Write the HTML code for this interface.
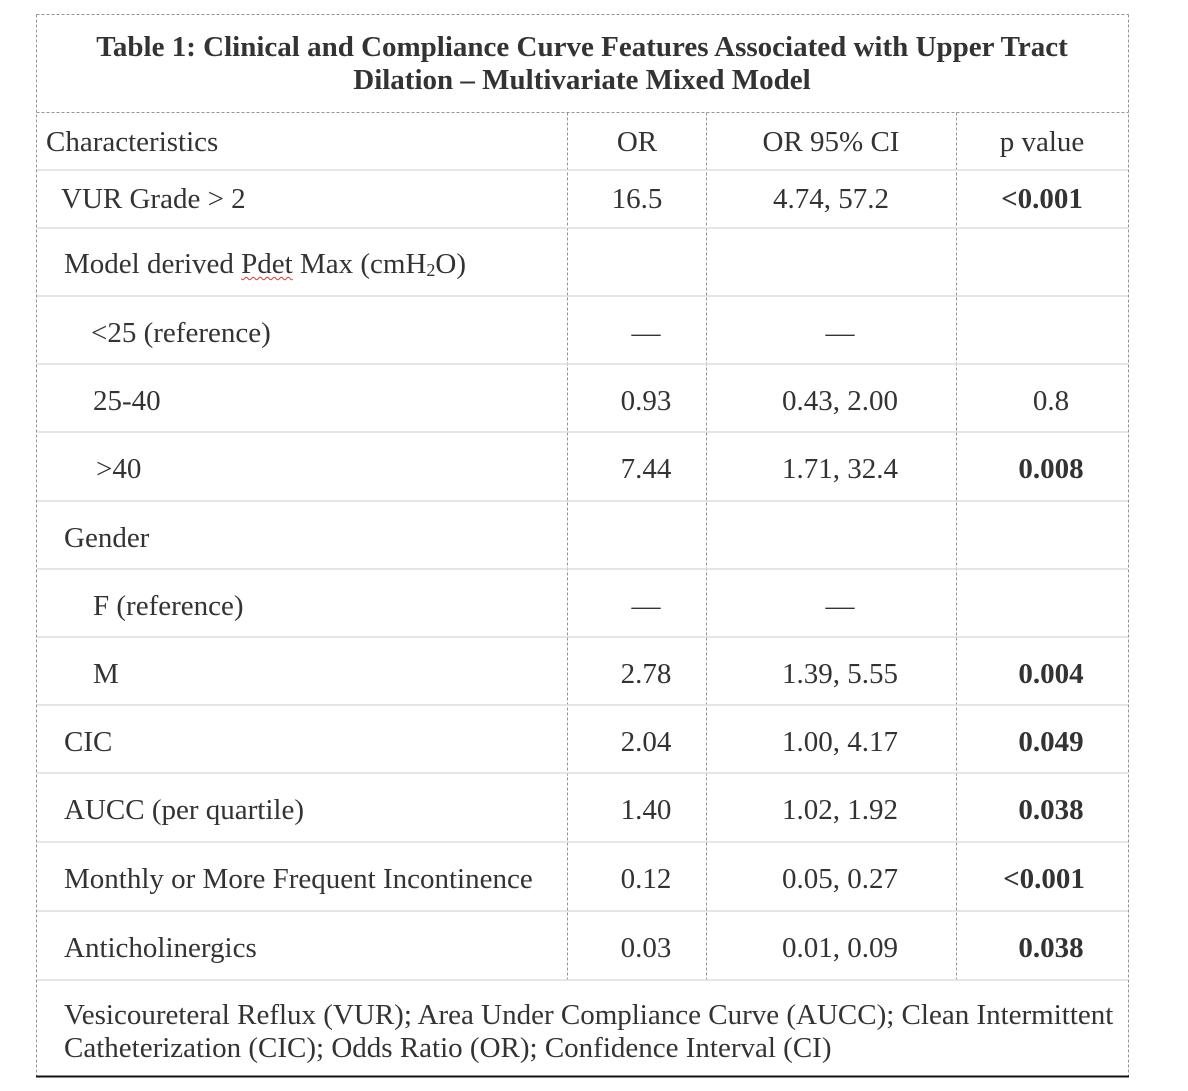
<!DOCTYPE html>
<html><head><meta charset="utf-8"><style>
html,body{margin:0;padding:0;background:#fff;}
body{width:1188px;height:1091px;position:relative;overflow:hidden;font-family:"Liberation Serif","Times New Roman",serif;color:#333;}
.t{position:absolute;font-size:29px;line-height:29px;white-space:nowrap;}
.c{width:400px;text-align:center;}
.b{font-weight:bold;}
svg{position:absolute;left:0;top:0;}
.w{text-decoration:underline wavy #d33;text-decoration-thickness:1px;text-underline-offset:3px;}
sub{font-size:18px;vertical-align:-3px;line-height:0;}
</style></head><body>
<svg width="1188" height="1091">
<g stroke="#959595" stroke-width="1" stroke-dasharray="3,2" fill="none">
<line x1="36.5" y1="14.5" x2="1128.5" y2="14.5"/>
<line x1="36.5" y1="14.5" x2="36.5" y2="1076"/>
<line x1="1128.5" y1="14.5" x2="1128.5" y2="1076"/>
<line x1="36.5" y1="112.5" x2="1128.5" y2="112.5"/>
<line x1="567.5" y1="112.5" x2="567.5" y2="980"/>
<line x1="706.5" y1="112.5" x2="706.5" y2="980"/>
<line x1="956.5" y1="112.5" x2="956.5" y2="980"/>
</g>
<g stroke="#dedede" stroke-width="1.5">
<line x1="37" y1="170" x2="1128" y2="170"/>
<line x1="37" y1="228" x2="1128" y2="228"/>
<line x1="37" y1="296" x2="1128" y2="296"/>
<line x1="37" y1="364" x2="1128" y2="364"/>
<line x1="37" y1="432" x2="1128" y2="432"/>
<line x1="37" y1="501" x2="1128" y2="501"/>
<line x1="37" y1="569" x2="1128" y2="569"/>
<line x1="37" y1="637" x2="1128" y2="637"/>
<line x1="37" y1="705" x2="1128" y2="705"/>
<line x1="37" y1="773" x2="1128" y2="773"/>
<line x1="37" y1="842" x2="1128" y2="842"/>
<line x1="37" y1="911" x2="1128" y2="911"/>
<line x1="37" y1="980" x2="1128" y2="980"/>
</g>
<line x1="36" y1="1076.5" x2="1129" y2="1076.5" stroke="#111" stroke-width="2"/>
</svg>

<div class="t b" style="left:82px;top:33px;width:1000px;text-align:center;">Table 1: Clinical and Compliance Curve Features Associated with Upper Tract</div>
<div class="t b" style="left:82px;top:66px;width:1000px;text-align:center;">Dilation – Multivariate Mixed Model</div>

<div class="t" style="left:46px;top:128px;">Characteristics</div>
<div class="t c" style="left:437px;top:128px;">OR</div>
<div class="t c" style="left:631px;top:128px;">OR 95% CI</div>
<div class="t c" style="left:842px;top:128px;">p value</div>

<div class="t" style="left:61px;top:185px;">VUR Grade &gt; 2</div>
<div class="t c" style="left:437px;top:185px;">16.5</div>
<div class="t c" style="left:631px;top:185px;">4.74, 57.2</div>
<div class="t c b" style="left:842px;top:185px;">&lt;0.001</div>

<div class="t" style="left:64px;top:250px;">Model derived <span class="w">Pdet</span> Max (cmH<sub>2</sub>O)</div>

<div class="t" style="left:91px;top:319px;">&lt;25 (reference)</div>
<div class="t c" style="left:446px;top:319px;">—</div>
<div class="t c" style="left:640px;top:319px;">—</div>

<div class="t" style="left:93px;top:387px;">25-40</div>
<div class="t c" style="left:446px;top:387px;">0.93</div>
<div class="t c" style="left:640px;top:387px;">0.43, 2.00</div>
<div class="t c" style="left:851px;top:387px;">0.8</div>

<div class="t" style="left:96px;top:455px;">&gt;40</div>
<div class="t c" style="left:446px;top:455px;">7.44</div>
<div class="t c" style="left:640px;top:455px;">1.71, 32.4</div>
<div class="t c b" style="left:851px;top:455px;">0.008</div>

<div class="t" style="left:64px;top:524px;">Gender</div>

<div class="t" style="left:93px;top:592px;">F (reference)</div>
<div class="t c" style="left:446px;top:592px;">—</div>
<div class="t c" style="left:640px;top:592px;">—</div>

<div class="t" style="left:93px;top:660px;">M</div>
<div class="t c" style="left:446px;top:660px;">2.78</div>
<div class="t c" style="left:640px;top:660px;">1.39, 5.55</div>
<div class="t c b" style="left:851px;top:660px;">0.004</div>

<div class="t" style="left:64px;top:728px;">CIC</div>
<div class="t c" style="left:446px;top:728px;">2.04</div>
<div class="t c" style="left:640px;top:728px;">1.00, 4.17</div>
<div class="t c b" style="left:851px;top:728px;">0.049</div>

<div class="t" style="left:64px;top:796px;">AUCC (per quartile)</div>
<div class="t c" style="left:446px;top:796px;">1.40</div>
<div class="t c" style="left:640px;top:796px;">1.02, 1.92</div>
<div class="t c b" style="left:851px;top:796px;">0.038</div>

<div class="t" style="left:64px;top:865px;">Monthly or More Frequent Incontinence</div>
<div class="t c" style="left:446px;top:865px;">0.12</div>
<div class="t c" style="left:640px;top:865px;">0.05, 0.27</div>
<div class="t c b" style="left:844px;top:865px;">&lt;0.001</div>

<div class="t" style="left:64px;top:934px;">Anticholinergics</div>
<div class="t c" style="left:446px;top:934px;">0.03</div>
<div class="t c" style="left:640px;top:934px;">0.01, 0.09</div>
<div class="t c b" style="left:851px;top:934px;">0.038</div>

<div class="t" style="left:64px;top:1001px;">Vesicoureteral Reflux (VUR); Area Under Compliance Curve (AUCC); Clean Intermittent</div>
<div class="t" style="left:64px;top:1034px;">Catheterization (CIC); Odds Ratio (OR); Confidence Interval (CI)</div>
</body></html>
